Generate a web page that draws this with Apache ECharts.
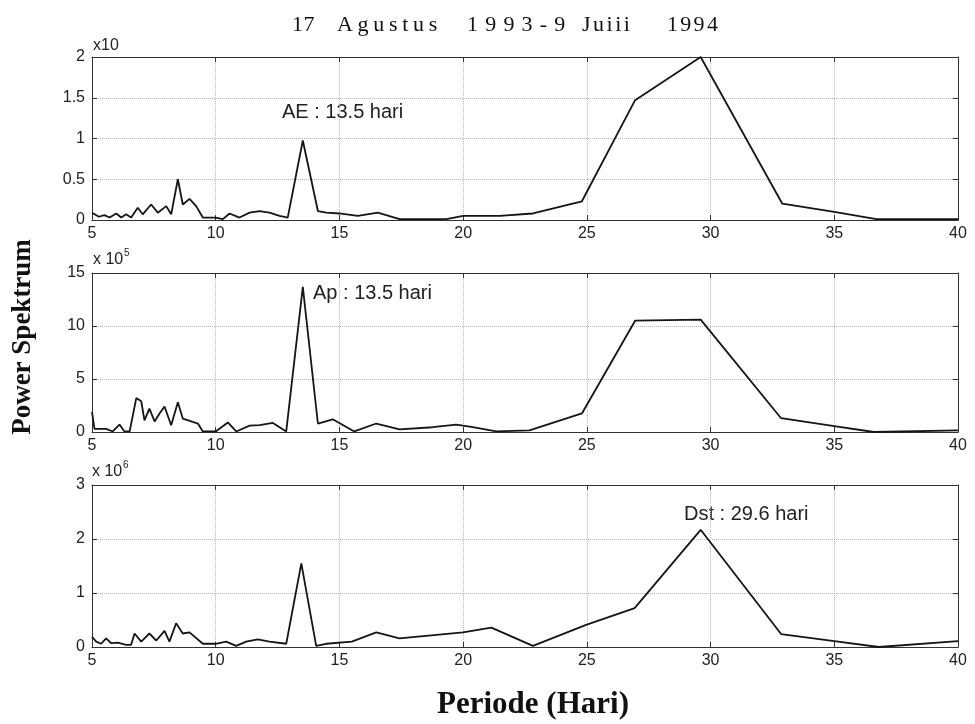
<!DOCTYPE html>
<html>
<head>
<meta charset="utf-8">
<script src="https://cdn.jsdelivr.net/npm/echarts@6/dist/echarts.min.js"></script>
<style>html,body{margin:0;padding:0;background:#fff}#c{width:975px;height:724px}</style>
</head>
<body>
<div id="c"></div>
<script>
// Periods (hari) and power values
var aeX = [5.0,5.28,5.5,5.71,5.98,6.18,6.38,6.58,6.85,7.05,7.39,7.66,8.0,8.2,8.47,8.67,8.94,9.21,9.48,10.0,10.29,10.56,10.96,11.37,11.77,12.17,12.58,12.91,13.52,14.13,14.47,15.0,15.74,16.55,17.43,19.32,20.0,21.47,22.82,24.8,26.95,29.6,32.9,35.0,36.7,40.0];
var aeY = [0.09,0.04,0.06,0.03,0.08,0.03,0.07,0.03,0.15,0.07,0.19,0.09,0.17,0.07,0.50,0.19,0.26,0.17,0.03,0.03,0.01,0.08,0.03,0.09,0.11,0.09,0.05,0.03,0.975,0.11,0.09,0.08,0.05,0.09,0.01,0.01,0.05,0.05,0.08,0.23,1.47,2.0,0.2,0.1,0.01,0.01];

var apX = [5.0,5.1,5.57,5.84,6.11,6.31,6.52,6.79,6.99,7.12,7.32,7.53,7.73,7.93,8.2,8.47,8.67,9.07,9.28,9.48,10.0,10.49,10.83,11.37,11.77,12.31,12.85,13.52,14.13,14.73,15.6,16.49,17.43,18.77,19.72,20.39,21.34,22.68,24.8,26.95,29.6,32.85,35.0,36.6,40.0];
var apY = [1.9,0.3,0.3,0.05,0.7,0.05,0.05,3.2,2.9,1.1,2.2,1.0,1.75,2.4,0.64,2.8,1.27,0.95,0.8,0.05,0.05,0.9,0.05,0.6,0.65,0.86,0.05,13.7,0.8,1.2,0.05,0.8,0.25,0.45,0.7,0.45,0.05,0.15,1.75,10.5,10.6,1.3,0.56,0.0,0.15];

var dstX = [5.0,5.17,5.37,5.57,5.78,6.04,6.38,6.58,6.72,6.99,7.32,7.6,7.93,8.13,8.4,8.67,8.94,9.48,10.0,10.42,10.83,11.23,11.7,12.17,12.85,13.46,14.06,14.47,15.5,16.49,17.43,19.99,21.14,22.82,24.97,26.93,29.6,32.85,35.0,36.8,40.0];
var dstY = [0.19,0.1,0.06,0.16,0.07,0.08,0.04,0.04,0.25,0.1,0.25,0.12,0.3,0.1,0.44,0.25,0.27,0.06,0.06,0.1,0.02,0.1,0.14,0.1,0.06,1.55,0.02,0.06,0.1,0.27,0.16,0.27,0.36,0.02,0.41,0.72,2.17,0.24,0.11,0.0,0.11];

var xTicks = {min: 5, max: 40, interval: 5};
var yRanges = [{min:0,max:2,interval:0.5},{min:0,max:15,interval:5},{min:0,max:3,interval:1}];
var annotations = ['AE : 13.5 hari', 'Ap : 13.5 hari', 'Dst : 29.6 hari'];
var exponents = [['x10',''],['x 10','5'],['x 10','6']];
var titleParts = ['17','Agustus','1993-9','Juiii','1994'];
var yName = 'Power Spektrum';
var xName = 'Periode (Hari)';

function pairs(xs, ys){ return xs.map(function(x,i){ return [x, ys[i]]; }); }
var seriesData = [pairs(aeX, aeY), pairs(apX, apY), pairs(dstX, dstY)];

var grids = [
  {left: 92, width: 866, top: 57, height: 163},
  {left: 92, width: 866, top: 273, height: 159},
  {left: 92, width: 866, top: 485, height: 162}
];

var sans = '"Liberation Sans", Arial, sans-serif';
var serif = '"Liberation Serif", "Times New Roman", serif';
var axisColor = '#333';
var gridLine = {show: true, lineStyle: {color: '#b5b5b5', type: 'dotted', width: 1}};

var xAxes = [], yAxes = [], series = [];
for (var i = 0; i < 3; i++) {
  xAxes.push({
    type: 'value', gridIndex: i, min: xTicks.min, max: xTicks.max, interval: xTicks.interval,
    position: 'bottom',
    axisLine: {show: true, onZero: false, lineStyle: {color: axisColor, width: 1}},
    axisTick: {show: true, inside: true, length: 5, lineStyle: {color: axisColor}},
    axisLabel: {show: true, margin: 6, fontSize: 16, color: '#222', fontFamily: sans},
    splitLine: gridLine
  });
  yAxes.push({
    type: 'value', gridIndex: i, min: yRanges[i].min, max: yRanges[i].max, interval: yRanges[i].interval,
    position: 'left',
    axisLine: {show: true, onZero: false, lineStyle: {color: axisColor, width: 1}},
    axisTick: {show: true, inside: true, length: 5, lineStyle: {color: axisColor}},
    axisLabel: {show: true, margin: 7, fontSize: 16, color: '#222', fontFamily: sans},
    splitLine: gridLine
  });
}
for (var j = 0; j < 3; j++) {
  xAxes.push({
    type: 'value', gridIndex: j, min: xTicks.min, max: xTicks.max, interval: xTicks.interval,
    position: 'top',
    axisLine: {show: true, onZero: false, lineStyle: {color: axisColor, width: 1}},
    axisTick: {show: true, inside: true, length: 5, lineStyle: {color: axisColor}},
    axisLabel: {show: false}, splitLine: {show: false}
  });
  yAxes.push({
    type: 'value', gridIndex: j, min: yRanges[j].min, max: yRanges[j].max, interval: yRanges[j].interval,
    position: 'right',
    axisLine: {show: true, onZero: false, lineStyle: {color: axisColor, width: 1}},
    axisTick: {show: true, inside: true, length: 5, lineStyle: {color: axisColor}},
    axisLabel: {show: false}, splitLine: {show: false}
  });
  series.push({
    type: 'line', xAxisIndex: j, yAxisIndex: j, data: seriesData[j],
    showSymbol: false, symbol: 'none', clip: true, animation: false,
    lineStyle: {color: '#151515', width: 1.8}
  });
}

var annPos = [[282, 112], [313, 293], [684, 514]];
var expPos = [[93, 46], [93, 260], [92, 472]];
var graphic = [];
annotations.forEach(function(t, k){
  graphic.push({type:'text', x: annPos[k][0], y: annPos[k][1], style:{text: t, fontSize: 20, fontFamily: sans, fill: '#222', verticalAlign: 'middle', align: 'left'}});
});
exponents.forEach(function(e, k){
  graphic.push({type:'text', x: expPos[k][0], y: expPos[k][1], style:{text: e[0], fontSize: 16, fontFamily: sans, fill: '#222', verticalAlign: 'middle', align: 'left'}});
  if (e[1]) graphic.push({type:'text', x: expPos[k][0] + 31, y: expPos[k][1] - 7, style:{text: e[1], fontSize: 10, fontFamily: sans, fill: '#222', verticalAlign: 'middle', align: 'left'}});
});

// Title: letter-spaced serif text built as rich tokens (one text element)
var adv = {'1':11,'7':11,'9':11,'3':11,'4':11,'A':15.9,'g':11,'u':11,'s':8.56,'t':6.12,'-':7.33,'J':8.56,'i':6.12};
var wordStart = [292, 337, 467, 582, 667];
var wordSpacing = [0.5, 4.7, 7.2, 2.5, 2.3];
var rich = {}, ttext = '', tok = 0, cursor = wordStart[0];
titleParts.forEach(function(w, k){
  if (k > 0) {
    var gap = wordStart[k] - cursor;
    rich['t' + tok] = {width: gap, fontSize: 22, fontFamily: serif, color: '#111'};
    ttext += '{t' + tok + '| }'; tok++;
    cursor = wordStart[k];
  }
  for (var c = 0; c < w.length; c++) {
    var wd = (adv[w[c]] || 11) + wordSpacing[k];
    rich['t' + tok] = {width: wd, fontSize: 22, fontFamily: serif, color: '#111', align: 'left'};
    ttext += '{t' + tok + '|' + w[c] + '}'; tok++;
    cursor += wd;
  }
});
graphic.push({type:'text', x: 292, y: 25, style:{text: ttext, rich: rich, fontSize: 22, fontFamily: serif, fill:'#111', verticalAlign:'middle', align:'left'}});
graphic.push({type:'text', x: 23, y: 337, rotation: Math.PI/2, style:{text: yName, fontSize: 27, fontWeight: 'bold', fontFamily: serif, fill:'#111', verticalAlign:'middle', align:'center'}});
graphic.push({type:'text', x: 533, y: 705, style:{text: xName, fontSize: 31, fontWeight: 'bold', fontFamily: serif, fill:'#111', verticalAlign:'middle', align:'center'}});

var chart = echarts.init(document.getElementById('c'), null, {renderer: 'canvas'});
chart.setOption({
  backgroundColor: '#fff',
  animation: false,
  grid: grids,
  xAxis: xAxes,
  yAxis: yAxes,
  series: series,
  graphic: graphic
});
</script>
</body>
</html>
